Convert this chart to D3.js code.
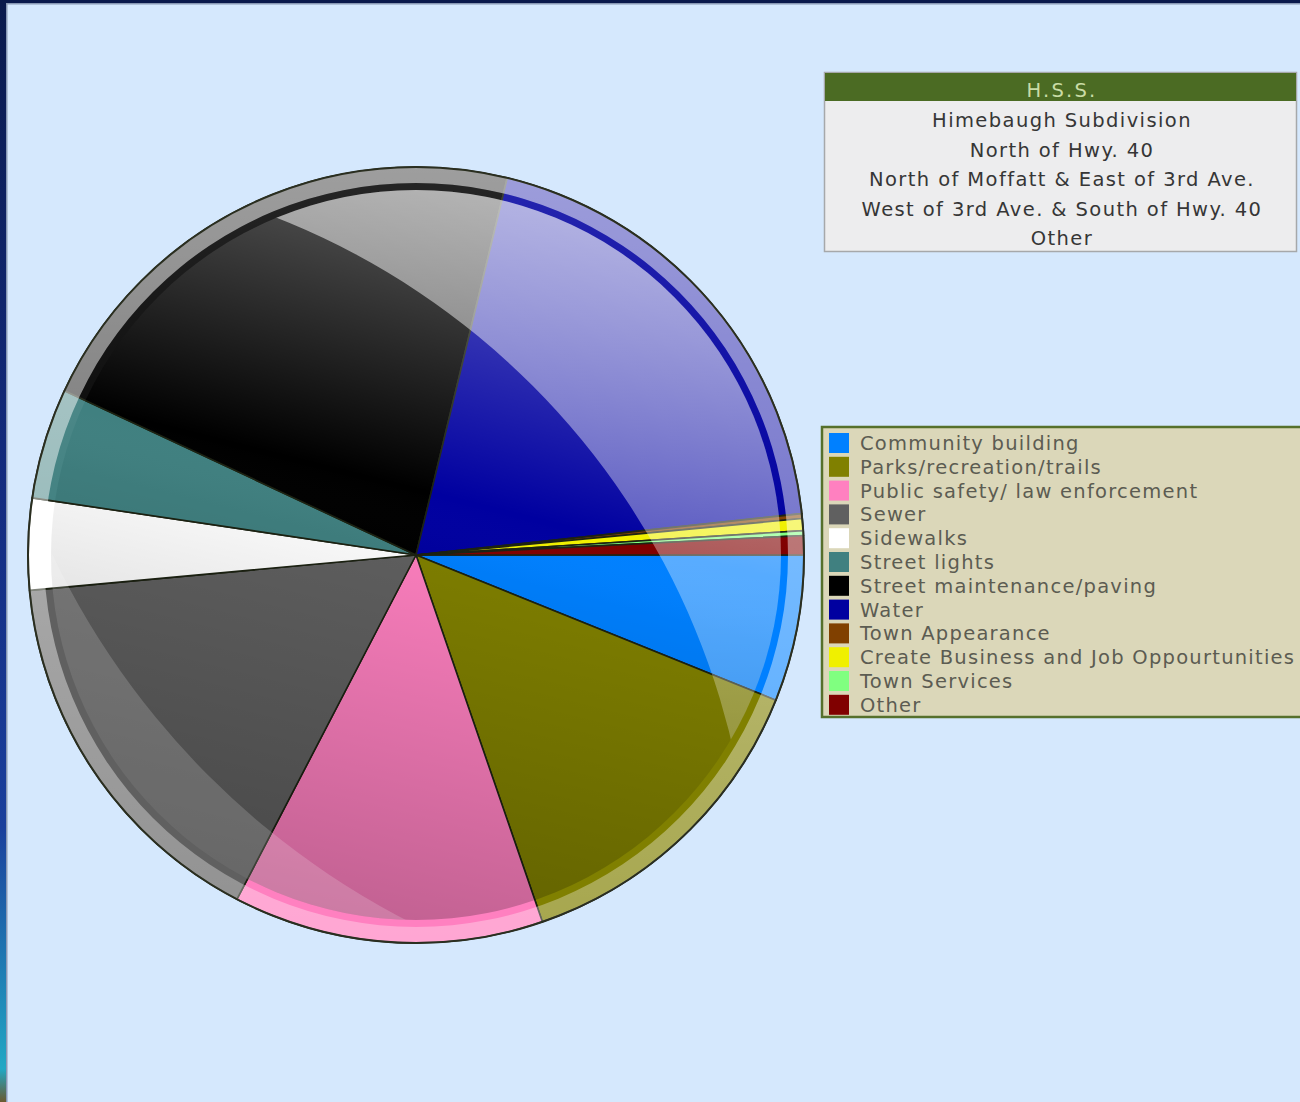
<!DOCTYPE html>
<html>
<head>
<meta charset="utf-8">
<script src="https://cdn.jsdelivr.net/npm/d3@7"></script>
<style>
  body { margin: 0; background: #d5e8fd; overflow: hidden; }
  text { font-family: "DejaVu Sans", Verdana, sans-serif; }
</style>
</head>
<body>
<script>
// Chart data (percent of answers)
var categories = ["Community building", "Parks/recreation/trails", "Public safety/ law enforcement",
  "Sewer", "Sidewalks", "Street lights", "Street maintenance/paving", "Water",
  "Town Appearance", "Create Business and Job Oppourtunities", "Town Services", "Other"];
var values = [6.1, 13.6, 12.9, 15.9, 3.8, 4.6, 21.8, 19.5, 0.2, 0.5, 0.2, 0.8];
var colors = ["#0080ff", "#808000", "#ff80c0", "#606060", "#ffffff", "#408080",
  "#000000", "#0000a0", "#804000", "#f0f000", "#80ff80", "#800000"];
var titleHeader = "H.S.S.";
var titleLines = ["Himebaugh Subdivision", "North of Hwy. 40", "North of Moffatt & East of 3rd Ave.",
  "West of 3rd Ave. & South of Hwy. 40", "Other"];

function drawChart(){

  var wx = 1300,
      hy = 1102;

  var canvas = d3.select("body")
      .append("svg")
      .attr("width", wx)
      .attr("height", hy);

  var defs = canvas.append("defs");

  // Page frame: dark strip at the left and top.
  var frameGrad = defs.append("linearGradient")
      .attr("id", "frameGrad")
      .attr("x1", 0).attr("y1", 0).attr("x2", 0).attr("y2", 1);
  frameGrad.append("stop").attr("offset", 0).attr("stop-color", "#0a1a4c");
  frameGrad.append("stop").attr("offset", 0.45).attr("stop-color", "#142c80");
  frameGrad.append("stop").attr("offset", 0.75).attr("stop-color", "#1a3f9c");
  frameGrad.append("stop").attr("offset", 0.97).attr("stop-color", "#22a8c4");
  frameGrad.append("stop").attr("offset", 1).attr("stop-color", "#6a5a30");

  canvas.append("rect")
      .attr("x", 0).attr("y", 0)
      .attr("width", 6).attr("height", hy)
      .attr("fill", "url(#frameGrad)");
  canvas.append("rect")
      .attr("x", 6).attr("y", 3)
      .attr("width", 1.5).attr("height", hy)
      .attr("fill", "#8898b4");
  canvas.append("rect")
      .attr("x", 0).attr("y", 0)
      .attr("width", wx).attr("height", 3)
      .attr("fill", "#0a1a4c");
  canvas.append("rect")
      .attr("x", 6).attr("y", 3)
      .attr("width", wx).attr("height", 1.5)
      .attr("fill", "#8898b4");

  // Pie geometry.
  var cx = 416,
      cy = 555,
      R = 388,
      rimIn = R - 16,
      inner = R - 23;

  var pie = d3.pie()
      .sort(null)
      .value(function(d){ return d; })
      .startAngle(Math.PI / 2)
      .endAngle(Math.PI / 2 + 2 * Math.PI);

  var arcs = pie(values);

  var arcFull = d3.arc().innerRadius(0).outerRadius(R);

  var g = canvas.append("g")
      .attr("transform", "translate(" + cx + "," + cy + ")");

  // Gradients used for the glossy look (in pie coordinates).
  var shade = defs.append("linearGradient")
      .attr("id", "shade")
      .attr("gradientUnits", "userSpaceOnUse")
      .attr("x1", R * 0.25).attr("y1", -R).attr("x2", -R * 0.25).attr("y2", R);
  shade.append("stop").attr("offset", 0).attr("stop-color", "#fff").attr("stop-opacity", 0.4);
  shade.append("stop").attr("offset", 0.42).attr("stop-color", "#fff").attr("stop-opacity", 0);
  shade.append("stop").attr("offset", 0.5).attr("stop-color", "#000").attr("stop-opacity", 0.03);
  shade.append("stop").attr("offset", 1).attr("stop-color", "#000").attr("stop-opacity", 0.26);

  var gloss = defs.append("linearGradient")
      .attr("id", "gloss")
      .attr("gradientUnits", "userSpaceOnUse")
      .attr("x1", 0).attr("y1", -R).attr("x2", 0).attr("y2", R * 0.5);
  gloss.append("stop").attr("offset", 0).attr("stop-color", "#fff").attr("stop-opacity", 0.55);
  gloss.append("stop").attr("offset", 1).attr("stop-color", "#fff").attr("stop-opacity", 0.25);

  var rimGrad = defs.append("linearGradient")
      .attr("id", "rimGrad")
      .attr("gradientUnits", "userSpaceOnUse")
      .attr("x1", 0).attr("y1", -R).attr("x2", 0).attr("y2", R);
  rimGrad.append("stop").attr("offset", 0).attr("stop-color", "#fff").attr("stop-opacity", 0.62);
  rimGrad.append("stop").attr("offset", 1).attr("stop-color", "#fff").attr("stop-opacity", 0.3);

  var ringGrad = defs.append("linearGradient")
      .attr("id", "ringGrad")
      .attr("gradientUnits", "userSpaceOnUse")
      .attr("x1", 0).attr("y1", -R).attr("x2", 0).attr("y2", 0);
  ringGrad.append("stop").attr("offset", 0).attr("stop-color", "#fff").attr("stop-opacity", 0.15);
  ringGrad.append("stop").attr("offset", 1).attr("stop-color", "#fff").attr("stop-opacity", 0);

  // Clip paths: outside of two large offset circles give the two light crescents.
  function circlePath(x, y, r){
    return "M" + (x - r) + "," + y +
      "A" + r + "," + r + " 0 1,0 " + (x + r) + "," + y +
      "A" + r + "," + r + " 0 1,0 " + (x - r) + "," + y + "Z";
  }
  var big = "M-2000,-2000H2000V2000H-2000Z";

  defs.append("clipPath").attr("id", "crescent1")
    .append("path")
      .attr("clip-rule", "evenodd")
      .attr("d", big + circlePath(-414, 361, 750));

  defs.append("clipPath").attr("id", "crescent2")
    .append("path")
      .attr("clip-rule", "evenodd")
      .attr("d", big + circlePath(356, -343, 797));

  // Slices.
  g.selectAll("path.slice")
      .data(arcs)
      .enter()
      .append("path")
      .attr("class", "slice")
      .attr("d", arcFull)
      .attr("fill", function(d, i){ return colors[i]; })
      .style("stroke", "#1c2212")
      .style("stroke-width", 1.6)
      .style("stroke-linejoin", "round");

  // Shading on the inner disc.
  g.append("circle")
      .attr("r", inner)
      .attr("fill", "url(#shade)");

  // Top right gloss.
  g.append("circle")
      .attr("r", inner)
      .attr("clip-path", "url(#crescent1)")
      .attr("fill", "url(#gloss)");

  // Lower left reflection.
  g.append("circle")
      .attr("r", inner)
      .attr("clip-path", "url(#crescent2)")
      .attr("fill", "#fff")
      .attr("fill-opacity", 0.17);

  // Thin ring just inside the rim.
  g.append("path")
      .attr("d", d3.arc().innerRadius(inner).outerRadius(rimIn).startAngle(0).endAngle(2 * Math.PI)())
      .attr("fill", "url(#ringGrad)");

  // Light outer rim.
  g.append("path")
      .attr("d", d3.arc().innerRadius(rimIn).outerRadius(R).startAngle(0).endAngle(2 * Math.PI)())
      .attr("fill", "url(#rimGrad)");

  // Outer edge.
  g.append("circle")
      .attr("r", R)
      .attr("fill", "none")
      .style("stroke", "#2a2e20")
      .style("stroke-width", 2);

  // Title box.
  var tb = canvas.append("g");
  tb.append("rect")
      .attr("x", 824.5).attr("y", 72.5)
      .attr("width", 472).attr("height", 179)
      .attr("fill", "#ededee")
      .style("stroke", "#a6a8aa")
      .style("stroke-width", 1.5);
  tb.append("rect")
      .attr("x", 825).attr("y", 73)
      .attr("width", 471).attr("height", 28)
      .attr("fill", "#4b6b23");
  tb.append("text")
      .attr("x", 1062).attr("y", 97)
      .attr("text-anchor", "middle")
      .style("font-size", "19.5px")
      .style("letter-spacing", "2.2px")
      .attr("fill", "#c9dca6")
      .text(titleHeader);
  tb.selectAll("text.line")
      .data(titleLines)
      .enter()
      .append("text")
      .attr("class", "line")
      .attr("x", 1062)
      .attr("y", function(d, i){ return 127 + i * 29.5; })
      .attr("text-anchor", "middle")
      .style("font-size", "19.5px")
      .style("letter-spacing", "1.4px")
      .attr("fill", "#363636")
      .text(function(d){ return d; });

  // Legend.
  var lg = canvas.append("g");
  lg.append("rect")
      .attr("x", 822).attr("y", 427)
      .attr("width", 520).attr("height", 290)
      .attr("fill", "#dbd7b9")
      .style("stroke", "#56702c")
      .style("stroke-width", 2.5);

  var rows = lg.selectAll("g.row")
      .data(categories)
      .enter()
      .append("g")
      .attr("class", "row")
      .attr("transform", function(d, i){ return "translate(0," + (i * 23.8) + ")"; });

  rows.append("rect")
      .attr("x", 829).attr("y", 433)
      .attr("width", 20).attr("height", 20)
      .attr("fill", function(d, i){ return colors[i]; });

  rows.append("text")
      .attr("x", 860).attr("y", 450)
      .style("font-size", "19.5px")
      .style("letter-spacing", "1.25px")
      .attr("fill", "#5c5c52")
      .text(function(d){ return d; });
}
drawChart();
</script>
</body>
</html>
